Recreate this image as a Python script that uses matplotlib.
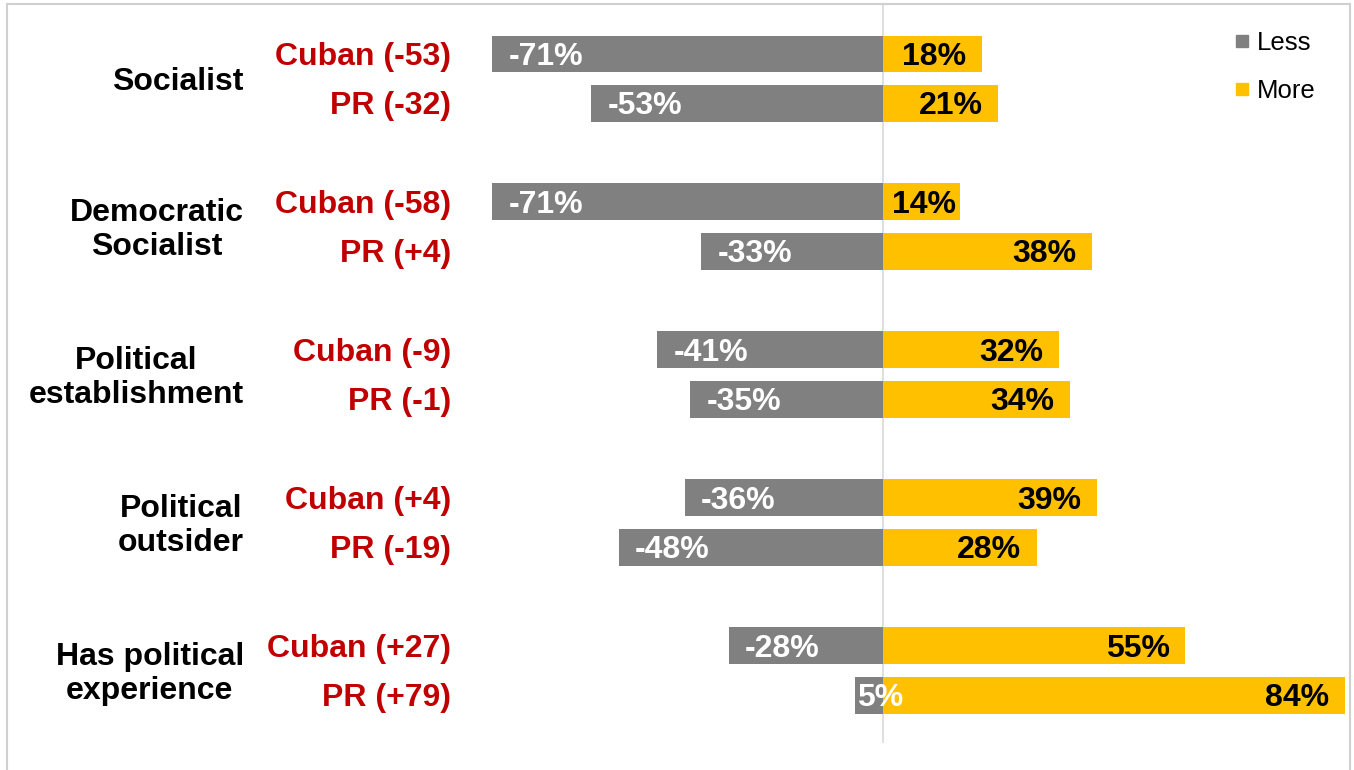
import matplotlib.pyplot as plt
from matplotlib.lines import Line2D
from matplotlib.patches import Rectangle

plt.rcParams['font.family'] = ['Liberation Sans', 'DejaVu Sans']

categories = ['Socialist', 'Democratic\nSocialist', 'Political\nestablishment',
              'Political\noutsider', 'Has political\nexperience']
groups = ['Cuban', 'PR']
net_cuban = ['-53', '-58', '-9', '+4', '+27']
net_pr = ['-32', '+4', '-1', '-19', '+79']
less_cuban = [-71, -71, -41, -36, -28]
less_pr = [-53, -33, -35, -48, -5]
more_cuban = [18, 14, 32, 39, 55]
more_pr = [21, 38, 34, 28, 84]

GRAY = '#808080'
GOLD = '#FFC000'
RED = '#C00000'

fig = plt.figure(figsize=(13.54, 7.7), dpi=100)
ax = fig.add_axes([0, 0, 1, 1])
ax.set_xlim(-883 / 5.5, (1354 - 883) / 5.5)
ax.set_ylim((770 - 54) / 49.33, -54 / 49.33)
ax.axis('off')

# frame
fig.patches.append(Rectangle((7 / 1354, -0.05), 1343 / 1354, 1.0 - 4 / 770 + 0.05,
                             transform=fig.transFigure, fill=False,
                             edgecolor='#D0D0D0', linewidth=1.5))

ax.axvline(0, ymin=(770 - 742) / 770, ymax=1 - 4 / 770, color='#D9D9D9', lw=1.2, zorder=0)

fs = 23
dy = 0.06  # text sits a bit lower than the bbox centre
for i, cat in enumerate(categories):
    rows = [(net_cuban[i], less_cuban[i], more_cuban[i]),
            (net_pr[i], less_pr[i], more_pr[i])]
    ax.text(-116.2, 3 * i + 0.5 + dy, cat, ha='right', va='center', fontsize=fs,
            fontweight='bold', color='black', linespacing=1.17,
            multialignment='center')
    for j, (net, less, more) in enumerate(rows):
        y = 3 * i + j
        ax.barh(y, less, height=0.75, color=GRAY, zorder=2)
        ax.barh(y, more, height=0.75, color=GOLD, zorder=2)
        ax.text(-78.5, y + dy, f'{groups[j]} ({net})', ha='right', va='center',
                fontsize=fs, fontweight='bold', color=RED)
        if abs(less) > 10:
            ax.text(less + 2.9, y + dy, f'{less}%', ha='left', va='center',
                    fontsize=fs, fontweight='bold', color='white', zorder=3)
        else:
            ax.text(less + 0.2, y + dy, f'{abs(less)}%', ha='left', va='center',
                    fontsize=fs, fontweight='bold', color='white', zorder=3)
        # short bars: label pushed towards the end
        pad = 2.9 if more > 15 else 0.7
        ax.text(more - pad, y + dy, f'{more}%', ha='right', va='center',
                fontsize=fs, fontweight='bold', color='black', zorder=3)

handles = [Line2D([], [], marker='s', ls='none', color=GRAY, markersize=9),
           Line2D([], [], marker='s', ls='none', color=GOLD, markersize=9)]
ax.legend(handles, ['Less', 'More'], loc='upper right',
          bbox_to_anchor=(1316 / 1354, 1 - 31 / 770), frameon=False,
          fontsize=18.5, handlelength=0.6, handletextpad=0.3,
          labelspacing=0.95, borderpad=0, borderaxespad=0)

fig.savefig('out.png', dpi=100)
